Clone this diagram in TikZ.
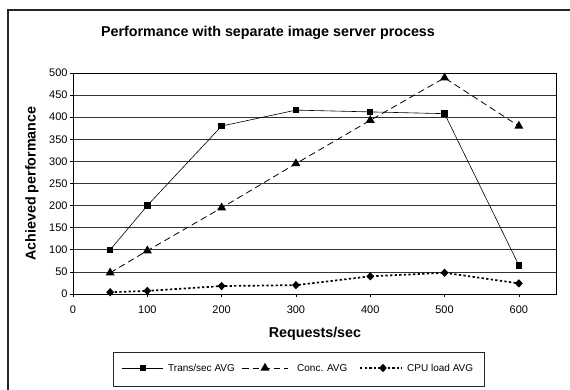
\documentclass[tikz,border=0pt]{standalone}
\usepackage{fontspec}
\setmainfont{Liberation Sans}
\usetikzlibrary{shapes.geometric}
\begin{document}
\begin{tikzpicture}[x=1pt,y=-1pt,
  frame/.style={draw=black!85,line width=1.3pt},
  gridline/.style={draw=black!80,line width=0.8pt},
  axisline/.style={draw=black,line width=0.9pt},
  tick/.style={draw=black,line width=0.7pt},
  ticklabel/.style={font=\fontsize{11}{13}\selectfont,inner sep=0},
  boldlabel/.style={font=\bfseries\fontsize{14.3}{16}\selectfont,inner sep=0},
  legendtext/.style={font=\fontsize{10}{12}\selectfont,inner sep=0,anchor=west},
  transline/.style={draw=black,line width=0.6pt},
  concline/.style={draw=black,line width=0.8pt,dash pattern=on 6.5pt off 4pt},
  cpuline/.style={draw=black,line width=1.7pt,dash pattern=on 2.3pt off 2.3pt},
  sqmark/.style={rectangle,fill=black,inner sep=0,minimum size=6.5pt},
  trimark/.style={regular polygon,regular polygon sides=3,fill=black,inner sep=0,minimum size=10.5pt},
  diamark/.style={diamond,fill=black,inner sep=0,minimum width=8pt,minimum height=8.5pt}]
\useasboundingbox (0,0) rectangle (570,390);
\clip (0,0) rectangle (570,390);
\fill[white] (0,0) rectangle (570,390);
% outer chart frame (right and bottom edges lie outside the picture)
\draw[frame] (8,400) -- (8,10) -- (580,10);
% title
\node[boldlabel] (title) at (268,33) {Performance with separate image server process};
% y axis title
\node[boldlabel,rotate=90] (ytitle) at (32,183.5) {Achieved performance};
% x axis title
\node[boldlabel] (xtitle) at (315,334) {Requests/sec};
% plot area
\begin{scope}[shift={(73,294)},x=0.7431pt,y=0.442pt]
  \foreach \v in {50,100,...,450} {
    \draw[gridline] (0,\v) -- (650,\v);
  }
  \foreach \v in {0,50,...,500} {
    \draw[tick] (0,\v) -- ++(-4.5,0);
    \node[ticklabel,anchor=east] (yl\v) at (-7,\v) {\v};
  }
  \foreach \v in {0,100,...,600} {
    \draw[tick] (\v,0) -- ++(0,-7);
    \node[ticklabel] (xl\v) at (\v,-36) {\v};
  }
  \draw[axisline] (0,0) -- (650,0) -- (650,500) -- (0,500) -- cycle;
  % data coordinates
  \coordinate (t1) at (50,100);  \coordinate (t2) at (100,200);
  \coordinate (t3) at (200,380); \coordinate (t4) at (300,416);
  \coordinate (t5) at (400,412); \coordinate (t6) at (500,408);
  \coordinate (t7) at (600,65);
  \coordinate (c1) at (50,48);   \coordinate (c2) at (100,98);
  \coordinate (c3) at (200,195); \coordinate (c4) at (300,295);
  \coordinate (c5) at (400,393); \coordinate (c6) at (500,489);
  \coordinate (c7) at (600,380);
  \coordinate (p1) at (50,4);    \coordinate (p2) at (100,7);
  \coordinate (p3) at (200,18);  \coordinate (p4) at (300,20);
  \coordinate (p5) at (400,40);  \coordinate (p6) at (500,48);
  \coordinate (p7) at (600,24);
  \draw[transline] (t1) -- (t2) -- (t3) -- (t4) -- (t5) -- (t6) -- (t7);
  \draw[concline] (c1) -- (c2) -- (c3) -- (c4) -- (c5) -- (c6) -- (c7);
  \draw[cpuline] (p1) -- (p2) -- (p3) -- (p4) -- (p5) -- (p6) -- (p7);
  \foreach \i in {1,...,7} {
    \node[sqmark] (mt\i) at (t\i) {};
    \node[trimark] (mc\i) at (c\i) {};
    \node[diamark] (mp\i) at (p\i) {};
  }
\end{scope}
% legend
\node[draw=black!85,line width=0.8pt,anchor=north west,inner sep=0,minimum width=371pt,minimum height=34pt] (legend) at (113,352) {};
\coordinate (la1) at (122,368); \coordinate (lb1) at (163,368);
\coordinate (la2) at (242,368); \coordinate (lb2) at (288,368);
\coordinate (la3) at (360,368); \coordinate (lb3) at (402,368);
\draw[transline] (la1) -- (lb1);
\draw[concline] (la2) -- (lb2);
\draw[cpuline] (la3) -- (lb3);
\node[sqmark] (lm1) at (143,368) {};
\node[trimark] (lm2) at (265,368) {};
\node[diamark] (lm3) at (383,368) {};
\node[legendtext] (lt1) at (168,368) {Trans/sec AVG};
\node[legendtext] (lt2) at (297,368) {Conc. AVG};
\node[legendtext] (lt3) at (407,368) {CPU load AVG};
\end{tikzpicture}
\end{document}
